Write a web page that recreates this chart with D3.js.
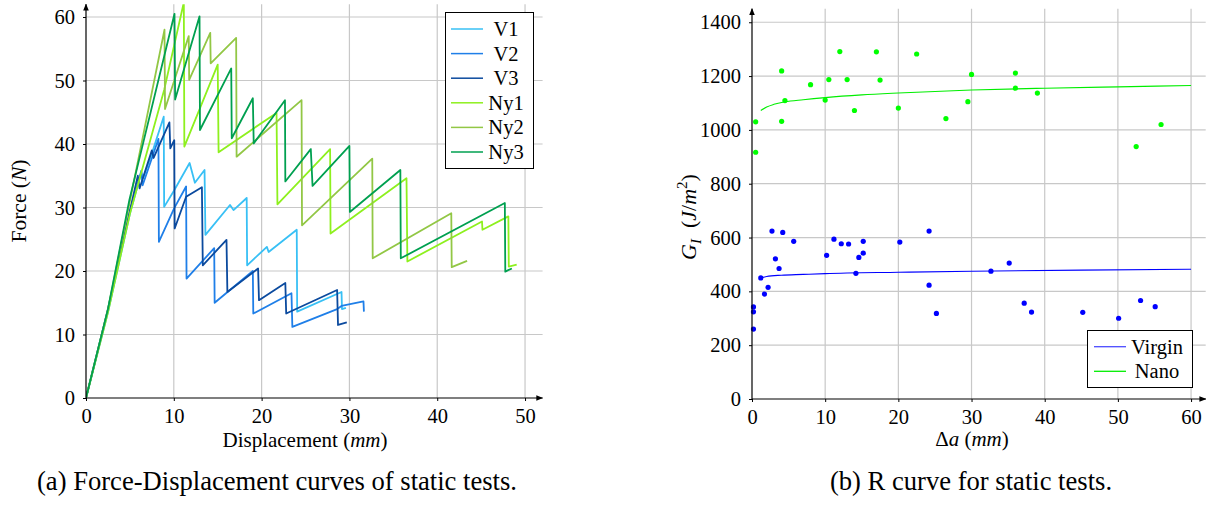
<!DOCTYPE html>
<html>
<head>
<meta charset="utf-8">
<script src="https://d3js.org/d3.v7.min.js"></script>
<style>
  body { margin: 0; background: #fff; }
  text { font-family: "Liberation Serif", "Times New Roman", serif; fill: #000; }
</style>
</head>
<body>
<svg id="fig" width="1210" height="506"></svg>
<script>
// ---- (a) force-displacement curves, [displacement mm, force N] vertices
const seriesNames = ["V1", "V2", "V3", "Ny1", "Ny2", "Ny3"];
const seriesColors = ["#38c0f5", "#1f7fe8", "#0b4a9e", "#8ef01e", "#92c745", "#00a050"];

const v1 = [[0,0],[2.5,13.5],[5,29],[6.3,35.5],[6.5,34.6],[7.5,38.5],[8.85,44.3],[8.9,30.1],[10.0,32.6],
  [11.8,37.0],[12.4,33.9],[13.5,35.9],[13.6,25.7],[16.4,30.4],[16.8,29.6],[18.3,31.5],[18.35,20.9],
  [20.6,23.8],[20.8,23.0],[24.0,26.5],[24.05,13.6],[29.1,16.7],[29.15,14.0],[29.6,14.2]];
const v2 = [[0,0],[2.5,13.8],[5,29.5],[6.3,35.8],[6.45,33.5],[8.25,40.8],[8.3,24.6],[10.05,29.9],[11.4,33.3],
  [11.45,18.8],[14.6,23.6],[14.65,15.0],[19.0,20.0],[19.05,13.3],[23.4,16.5],[23.5,11.2],[28.6,14.0],
  [29.1,14.5],[31.6,15.2],[31.65,13.6]];
const v3 = [[0,0],[2.5,14],[5,29.5],[5.9,35],[6.1,33],[7.5,39],[7.7,37.8],[9.5,43.4],[9.6,39.3],[10.05,40.6],
  [10.1,26.7],[11.4,31.7],[13.2,33.2],[13.3,20.9],[16.0,24.9],[16.1,16.7],[19.6,20.4],[19.7,15.4],
  [22.7,18.1],[22.8,13.3],[28.6,17.0],[28.7,11.5],[29.7,11.9]];
const ny1 = [[0,0],[2.5,13.5],[5,29],[8.9,48.5],[11.14,62.3],[11.2,39.6],[15.0,52.5],[15.1,38.7],[21.7,44.9],
  [21.8,30.5],[27.8,39.2],[27.85,25.9],[36.5,34.6],[36.6,21.5],[45.1,27.8],[45.15,26.5],[48.1,28.6],
  [48.15,20.7],[49.05,21.0]];
const ny2 = [[0,0],[2.5,14],[5,31],[8.94,58.0],[9.0,45.5],[11.7,57.0],[11.75,50.1],[14.15,57.5],[14.2,52.7],
  [17.1,56.7],[17.15,38.0],[24.55,46.9],[24.6,27.2],[32.6,37.7],[32.65,22.0],[41.6,29.1],[41.65,20.6],
  [43.4,21.6]];
const ny3 = [[0,0],[2.5,14],[4.94,31.2],[10.08,60.5],[10.15,47.0],[12.93,60.1],[12.98,42.2],[16.54,51.9],
  [16.6,40.9],[19.0,47.2],[19.1,40.1],[22.66,46.9],[22.7,34.1],[25.6,39.2],[25.8,33.4],[30.0,39.7],
  [30.05,29.3],[35.8,35.9],[35.85,22.0],[47.7,30.7],[47.75,19.9],[48.5,20.4]];
const curves = [v1, v2, v3, ny1, ny2, ny3];

const dispTicks = [0, 10, 20, 30, 40, 50];
const forceTicks = [0, 10, 20, 30, 40, 50, 60];

// ---- (b) R curve
const virginA = [2.73,4.2,5.7,3.2,3.7,1.2,2.2,1.7,0.2,0.2,0.2,10.2,11.2,12.2,13.2,15.2,15.2,14.6,14.2,20.2,24.2,24.2,25.2,
  32.65,35.15,37.2,38.2,45.2,50.1,53.1,55.1];
const virginG = [624,619,586,521,485,450,415,390,342,324,260,534,594,577,576,586,542,526,467,583,624,423,318,
  475,505,356,323,322,300,366,343];
const nanoA = [0.5,0.5,4.05,4.05,4.5,8.0,10.0,10.5,12.0,13.0,14.0,17.0,17.5,20.0,22.5,26.5,29.5,30.0,36.0,36.0,39.0,52.5,55.9];
const nanoG = [1030,917,1219,1032,1109,1168,1111,1187,1291,1187,1072,1290,1185,1081,1282,1042,1105,1206,1211,1155,1137,938,1020];

const virginFitA = [1.2,2,4,7,10,20,30,45,60];
const virginFitG = [450,455,460,463,466,471,475,479,482];
const nanoFitA = [1.2,2,3,4.5,7,10,15,20,30,40,50,60];
const nanoFitG = [1072,1085,1095,1104,1112,1120,1130,1137,1148,1155,1160,1165];

const daTicks = [0, 10, 20, 30, 40, 50, 60];
const gTicks = [0, 200, 400, 600, 800, 1000, 1200, 1400];

const svg = d3.select("#fig");
svg.append("rect").attr("width", 1210).attr("height", 506).attr("fill", "#fff");

const defs = svg.append("defs");
defs.append("marker").attr("id", "arrow")
  .attr("viewBox", "0 0 10 10").attr("refX", 9).attr("refY", 5)
  .attr("markerWidth", 7).attr("markerHeight", 7).attr("markerUnits", "userSpaceOnUse")
  .attr("orient", "auto")
  .append("path").attr("d", "M0,1 L10,5 L0,9 z").attr("fill", "#000");

function panel(x, y, xTicks, yTicks, clipId) {
  const [x0, x1] = x.range(), [y0, y1] = y.range();
  const g = svg.append("g");
  // grid
  g.append("g").selectAll("line").data(xTicks.filter(d => d > 0)).join("line")
    .attr("x1", d => x(d)).attr("x2", d => x(d)).attr("y1", y0).attr("y2", y1)
    .attr("stroke", "#c8c8c8").attr("stroke-width", 1.2);
  g.append("g").selectAll("line").data(yTicks.filter(d => d > 0)).join("line")
    .attr("y1", d => y(d)).attr("y2", d => y(d)).attr("x1", x0).attr("x2", x1)
    .attr("stroke", "#c8c8c8").attr("stroke-width", 1.2);
  defs.append("clipPath").attr("id", clipId).append("rect")
    .attr("x", x0).attr("y", y1).attr("width", x1 - x0).attr("height", y0 - y1);
  return g;
}

function axes(x, y, xTicks, yTicks) {
  const [x0, x1] = x.range(), [y0, y1] = y.range();
  const ax = svg.append("g").attr("transform", `translate(0,${y0})`)
    .call(d3.axisBottom(x).tickValues(xTicks).tickSize(3).tickPadding(7).tickFormat(d3.format("d")));
  ax.select(".domain").remove();
  ax.selectAll("text").attr("font-size", 20.5).attr("font-family", "Liberation Serif");
  ax.selectAll("line").attr("stroke", "#000");
  const ay = svg.append("g").attr("transform", `translate(${x0},0)`)
    .call(d3.axisLeft(y).tickValues(yTicks).tickSize(3).tickPadding(8).tickFormat(d3.format("d")));
  ay.select(".domain").remove();
  ay.selectAll("text").attr("font-size", 20.5).attr("font-family", "Liberation Serif");
  ay.selectAll("line").attr("stroke", "#000");
  svg.append("line").attr("x1", x0).attr("x2", x1).attr("y1", y0).attr("y2", y0)
    .attr("stroke", "#000").attr("stroke-width", 1.2).attr("marker-end", "url(#arrow)");
  svg.append("line").attr("x1", x0).attr("x2", x0).attr("y1", y0).attr("y2", y1)
    .attr("stroke", "#000").attr("stroke-width", 1.2).attr("marker-end", "url(#arrow)");
}

// ===== left panel
const xa = d3.scaleLinear().domain([0, 52]).range([86, 542.6]);
const ya = d3.scaleLinear().domain([0, 62]).range([398, 4.3]);
panel(xa, ya, dispTicks, forceTicks, "clipA");

const line = d3.line().x(d => xa(d[0])).y(d => ya(d[1]));
svg.append("g").attr("clip-path", "url(#clipA)")
  .selectAll("path").data(curves).join("path")
  .attr("d", line)
  .attr("fill", "none")
  .attr("stroke", (d, i) => seriesColors[i])
  .attr("stroke-width", 1.8)
  .attr("stroke-linejoin", "round");

axes(xa, ya, dispTicks, forceTicks);

// legend (a)
const legA = svg.append("g");
legA.append("rect").attr("x", 445.5).attr("y", 12.5).attr("width", 88).attr("height", 156)
  .attr("fill", "#fff").attr("stroke", "#000").attr("stroke-width", 1);
seriesNames.forEach((name, i) => {
  const yy = 29 + i * 24.6;
  legA.append("line").attr("x1", 451).attr("x2", 483).attr("y1", yy).attr("y2", yy)
    .attr("stroke", seriesColors[i]).attr("stroke-width", 1.5);
  legA.append("text").attr("x", 506).attr("y", yy + 7).attr("text-anchor", "middle")
    .attr("font-size", 20.5).text(name);
});

svg.append("text").attr("x", 305).attr("y", 447).attr("text-anchor", "middle").attr("font-size", 21)
  .call(t => { t.append("tspan").text("Displacement ("); t.append("tspan").attr("font-style", "italic").text("mm"); t.append("tspan").text(")"); });
svg.append("text").attr("transform", "translate(26,201) rotate(-90)").attr("text-anchor", "middle").attr("font-size", 21.5)
  .call(t => { t.append("tspan").text("Force ("); t.append("tspan").attr("font-style", "italic").text("N"); t.append("tspan").text(")"); });
svg.append("text").attr("x", 277).attr("y", 490).attr("text-anchor", "middle").attr("font-size", 26.6)
  .text("(a) Force-Displacement curves of static tests.");

// ===== right panel
const xb = d3.scaleLinear().domain([0, 62]).range([752, 1205.7]);
const yb = d3.scaleLinear().domain([0, 1450]).range([399, 8.8]);
panel(xb, yb, daTicks, gTicks, "clipB");

const fitLine = d3.line().curve(d3.curveMonotoneX).x(d => xb(d[0])).y(d => yb(d[1]));
const fits = [
  { a: virginFitA, g: virginFitG, color: "#0000ff" },
  { a: nanoFitA, g: nanoFitG, color: "#00ee00" }
];
svg.append("g").selectAll("path").data(fits).join("path")
  .attr("d", f => fitLine(f.a.map((a, i) => [a, f.g[i]])))
  .attr("fill", "none").attr("stroke", f => f.color).attr("stroke-width", 1.1);

svg.append("g").selectAll("circle").data(virginA.map((a, i) => [a, virginG[i]])).join("circle")
  .attr("cx", d => xb(d[0])).attr("cy", d => yb(d[1])).attr("r", 2.6).attr("fill", "#0000ff");
svg.append("g").selectAll("circle").data(nanoA.map((a, i) => [a, nanoG[i]])).join("circle")
  .attr("cx", d => xb(d[0])).attr("cy", d => yb(d[1])).attr("r", 2.6).attr("fill", "#00ff00");

axes(xb, yb, daTicks, gTicks);

// legend (b)
const legB = svg.append("g");
legB.append("rect").attr("x", 1087.5).attr("y", 330.5).attr("width", 105).attr("height", 57)
  .attr("fill", "#fff").attr("stroke", "#000").attr("stroke-width", 1);
[["Virgin", "#4b4bff", 346.7], ["Nano", "#00ee00", 371.3]].forEach(([name, c, yy]) => {
  legB.append("line").attr("x1", 1094).attr("x2", 1126).attr("y1", yy).attr("y2", yy)
    .attr("stroke", c).attr("stroke-width", 1.3);
  legB.append("text").attr("x", 1157).attr("y", yy + 7).attr("text-anchor", "middle")
    .attr("font-size", 20.5).text(name);
});

svg.append("text").attr("x", 972).attr("y", 446).attr("text-anchor", "middle").attr("font-size", 21)
  .call(t => {
    t.append("tspan").text("Δ");
    t.append("tspan").attr("font-style", "italic").text("a");
    t.append("tspan").text(" (");
    t.append("tspan").attr("font-style", "italic").text("mm");
    t.append("tspan").text(")");
  });
svg.append("text").attr("transform", "translate(696,217) rotate(-90)").attr("text-anchor", "middle").attr("font-size", 22)
  .call(t => {
    t.append("tspan").attr("font-style", "italic").text("G");
    t.append("tspan").attr("font-style", "italic").attr("font-size", 15).attr("dy", 5).text("I");
    t.append("tspan").attr("dy", -5).text("\u2002(");
    t.append("tspan").attr("font-style", "italic").text("J");
    t.append("tspan").text("/");
    t.append("tspan").attr("font-style", "italic").text("m");
    t.append("tspan").attr("font-size", 15).attr("dy", -9).text("2");
    t.append("tspan").attr("dy", 9).text(")");
  });
svg.append("text").attr("x", 971).attr("y", 490).attr("text-anchor", "middle").attr("font-size", 26.6)
  .text("(b) R curve for static tests.");
</script>
</body>
</html>
